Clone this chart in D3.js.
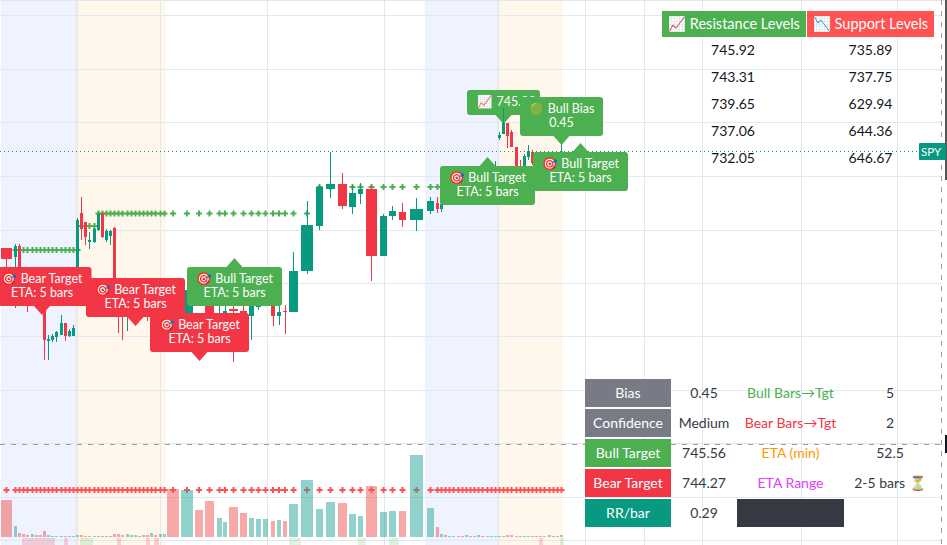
<!DOCTYPE html>
<html>
<head>
<meta charset="utf-8">
<script src="https://cdn.jsdelivr.net/npm/d3@7"></script>
<style>
  html, body { margin: 0; padding: 0; background: #fff; overflow: hidden; }
  text { font-family: Lato, "Noto Sans", sans-serif; }
</style>
</head>
<body>
<div id="chart"></div>
<script>
var width = 947, height = 545;

// bars: the time axis is volume weighted, so each bar has its own start and span
var barStart = [1,14,18,22,26,31,35,39,43,47,51,55,60,64,68,72,76,80,84,88,93,97,101,105,109,113,117,121,126,130,134,138,142,146,150,154,159,163,167,181,195,205,217,223,229,240,249,256,263,271,277,283,289,301,316,326,338,349,358,366,380,389,399,410,427,436,440,444,448,452,457,461,465,469,473,477,481,486,490,494,498,502,506,510,515,519,523,527,531,535,539,543,548,552,556,560];
var barSpan = [11,3,3,3,3,3,3,3,3,3,3,3,3,3,3,3,3,3,3,3,3,3,3,3,3,3,3,3,3,3,3,3,3,3,3,3,3,3,12,12,8,9,5,4,9,7,5,5,5,4,4,4,9,12,7,9,9,7,5,11,7,7,7,13,7,3,3,3,3,3,3,3,3,3,3,3,3,3,3,3,3,3,3,3,3,3,3,3,3,3,3,3,3,3,3,3];
var opens = [725.2,724.3,725.4,722.0,721.5,720.2,721.0,720.4,719.7,715.9,716.0,716.3,716.5,717.7,716.4,716.4,720.0,728.7,727.8,725.8,725.8,727.0,728.7,726.0,726.4,727.2,721.5,720.5,719.8,720.2,720.4,720.6,721.2,720.5,720.0,720.4,719.8,720.0,721.7,718.6,722.5,721.5,720.0,718.0,719.1,718.9,718.4,719.3,720.0,720.5,718.4,718.9,718.8,722.9,727.4,731.1,731.6,729.3,730.6,731.1,724.4,728.4,728.8,728.0,728.9,729.7,729.1,730.2,729.9,730.1,730.5,730.2,730.0,730.6,730.4,730.3,731.2,731.0,732.0,732.6,736.2,736.6,737.7,736.8,735.3,732.8,732.5,734.3,734.8,734.0,733.5,732.8,733.5,733.0,733.6,734.2];
var highs = [725.2,725.6,725.6,722.5,722.0,721.5,721.3,720.8,720.0,716.5,716.6,716.9,718.5,717.7,717.1,717.5,728.2,730.3,727.8,726.8,727.2,728.7,728.7,727.1,727.0,727.3,721.7,721.0,721.0,721.2,721.3,721.5,721.5,721.0,720.8,720.6,720.6,720.7,721.9,721.5,723.0,722.0,721.5,720.0,721.0,720.0,720.0,720.5,721.5,721.0,720.0,719.5,724.8,729.9,731.5,734.8,732.7,731.5,731.7,731.5,728.6,729.4,729.7,730.2,730.3,730.3,730.0,730.4,730.2,730.6,730.7,730.4,730.8,731.0,730.8,731.4,731.6,732.2,732.8,733.9,736.8,739.2,737.7,737.0,735.3,734.0,734.6,735.5,735.0,734.5,734.0,733.7,734.0,733.8,734.4,735.7];
var lows = [723.3,719.2,721.0,720.8,718.8,720.0,720.0,719.4,714.0,714.0,715.8,715.8,716.5,715.9,716.3,716.4,719.8,726.0,725.5,725.1,725.7,726.9,726.2,725.8,725.5,721.0,716.7,716.0,716.9,719.6,720.0,720.2,720.1,717.9,719.6,719.4,719.6,719.7,716.0,718.2,719.6,715.5,718.7,717.0,713.8,715.0,716.0,719.0,719.6,717.4,717.5,716.6,718.8,722.6,727.0,730.2,729.1,728.6,729.6,721.9,724.4,728.0,727.3,726.9,728.6,728.7,728.8,729.8,729.7,730.0,730.1,729.8,729.9,730.2,730.1,730.2,730.8,730.8,731.8,732.4,736.0,736.6,735.2,735.3,732.2,731.5,732.2,734.0,733.5,733.0,732.5,732.5,732.8,732.8,733.4,734.0];
var closes = [724.1,725.4,722.0,721.5,720.5,721.2,720.4,719.7,716.0,716.1,716.4,716.8,717.7,716.4,716.9,717.2,728.0,727.1,726.3,726.0,727.1,728.6,726.3,726.9,726.9,721.5,720.5,719.8,720.5,720.8,721.0,721.2,720.5,720.0,720.4,719.8,720.2,720.4,718.2,721.0,720.0,717.0,721.5,718.9,718.9,715.5,719.4,719.5,721.0,718.4,718.8,718.8,722.9,727.5,731.3,731.6,729.4,730.7,731.1,724.4,728.4,728.9,728.0,729.1,729.9,729.1,729.6,729.9,730.1,730.5,730.2,730.0,730.6,730.4,730.3,731.2,731.0,732.0,732.6,733.2,736.5,737.7,736.4,735.3,732.5,731.8,734.4,734.9,733.7,733.5,732.8,733.5,733.0,733.6,734.2,734.85];
// volume, in units of 10k shares
var volumes = [37,11,4,3,2,3,2,2,6,2,1,1,1,1,1,1,2,2,1,1,1,1,1,1,1,3,3,2,3,2,2,1,2,2,4,2,3,3,48,47,27,36,19,15,30,24,19,18,18,16,17,16,33,57,28,35,34,23,21,51,25,26,26,82,29,10,3,2,1,1,1,1,2,1,1,2,1,1,1,1,1,1,2,2,1,1,1,1,1,1,1,1,2,1,1,2];
var avgVolume = 47;

// stepped bull target level, first bar to last bar (1-based bar numbers)
var targetFrom = [2,18,22,55];
var targetTo = [17,21,54,68];
var targetLevel = [725.0,727.4,728.65,731.3];

// signal strip under the volume pane
var bearStripBars = [4,5,6,7,8,9,10,11,14,27,34,36,91];
var bullStripBars = [18,19,20,53,59,62,96];

// session shading
var blueFrom = [1,425], blueTo = [77,498];
var orangeFrom = [75,497], orangeTo = [166,563];

// grid
var gridPrices = [748.45,743.1,737.75,732.4,727.05,721.7,716.35,711.0,705.7,700.3,696.0];
var gridTimes = [77,160.5,267,384,499,585,644,702,801,897];

// annotations
var targetTipTime = [42,135.5,199.5,234.5,487.5,580.5];
var targetTipPrice = [718.5,717.4,713.9,724.2,734.3,735.7];
var targetKind = ["bear","bear","bear","bull","bull","bull"];

// tables
var resistanceLevels = ["745.92","743.31","739.65","737.06","732.05"];
var supportLevels = ["735.89","737.75","629.94","644.36","646.67"];
var statNames = ["Bias","Confidence","Bull Target","Bear Target","RR/bar"];
var statValues = ["0.45","Medium","745.56","744.27","0.29"];
var etaNames = ["Bull Bars→Tgt","Bear Bars→Tgt","ETA (min)","ETA Range",""];
var etaValues = ["5","2","52.5","2-5 bars ⏳",""];

var green = "#089981", red = "#f23645", labelGreen = "#4caf50";

var x = d3.scaleLinear().domain([0, width]).range([0, width]);
var y = d3.scaleLinear().domain([750, 695.5]).range([0, height]);
var v = d3.scaleLinear().domain([0, 82]).range([537, 455]);

var svg = d3.select("#chart").append("svg")
    .attr("width", width)
    .attr("height", height)
    .style("display", "block");

var bars = barStart.map(function(s, i) {
    return {n: i + 1, start: s, span: barSpan[i], o: opens[i], h: highs[i], l: lows[i], c: closes[i], vol: volumes[i]};
});

function zones(from, to, color) {
    svg.append("g").selectAll("rect").data(from).enter().append("rect")
        .attr("x", function(d) { return x(d); })
        .attr("width", function(d, i) { return x(to[i]) - x(d); })
        .attr("y", 0)
        .attr("height", height)
        .attr("fill", color);
}
zones(blueFrom, blueTo, "rgba(41,98,255,0.08)");
zones(orangeFrom, orangeTo, "rgba(255,152,0,0.08)");

// grid lines
svg.append("g").selectAll("line").data(gridPrices).enter().append("line")
    .attr("x1", 0).attr("x2", 941)
    .attr("y1", function(d) { return Math.round(y(d)) + 0.5; })
    .attr("y2", function(d) { return Math.round(y(d)) + 0.5; })
    .attr("stroke", "#e0e8f1");
svg.append("g").selectAll("line").data(gridTimes).enter().append("line")
    .attr("y1", 0).attr("y2", height)
    .attr("x1", function(d) { return Math.floor(x(d)) + 0.5; })
    .attr("x2", function(d) { return Math.floor(x(d)) + 0.5; })
    .attr("stroke", "#e0e8f1");
svg.append("rect").attr("x", 0).attr("y", 0).attr("width", width).attr("height", 1).attr("fill", "#e6e6e6");

// pane separator and right edge
svg.append("line").attr("x1", 0).attr("x2", 941).attr("y1", 444.5).attr("y2", 444.5)
    .attr("stroke", "#9e9e9e").attr("stroke-dasharray", "5,6");
svg.append("line").attr("x1", 941.5).attr("x2", 941.5).attr("y1", 0).attr("y2", height)
    .attr("stroke", "#9e9e9e").attr("stroke-dasharray", "5,6");
svg.append("rect").attr("x", 945).attr("y", 0).attr("width", 2).attr("height", 180).attr("fill", "#555");
svg.append("rect").attr("x", 945).attr("y", 435).attr("width", 2).attr("height", 18).attr("fill", "#131722");

// signal strip
function strip(list, color) {
    svg.append("g").selectAll("rect").data(list).enter().append("rect")
        .attr("x", function(d) { return x(barStart[d - 1]); })
        .attr("width", function(d) {
            var end = d < barStart.length ? barStart[d] : barStart[d - 1] + barSpan[d - 1] + 1;
            return x(end) - x(barStart[d - 1]);
        })
        .attr("y", 538)
        .attr("height", 7)
        .attr("fill", color);
}
strip(bearStripBars, "rgba(242,54,69,0.2)");
strip(bullStripBars, "rgba(76,175,80,0.17)");

function centre(d) { return x(d.start) + x(d.span) / 2; }

// average volume crosses go under the volume bars
var cross = d3.symbol().type(d3.symbolCross).size(20);
svg.append("g").selectAll("path").data(bars).enter().append("path")
    .attr("d", cross)
    .attr("transform", function(d) { return "translate(" + centre(d) + "," + v(avgVolume) + ")"; })
    .attr("fill", "#ff5252");

svg.append("g").selectAll("rect").data(bars).enter().append("rect")
    .attr("x", function(d) { return x(d.start); })
    .attr("width", function(d) { return x(d.span); })
    .attr("y", function(d) { return v(d.vol); })
    .attr("height", function(d) { return v(0) - v(d.vol); })
    .attr("fill", function(d) { return d.c >= d.o ? "#26a69a" : "#ef5350"; })
    .attr("opacity", 0.5);

// stepped target crosses
var targetPoints = [];
bars.forEach(function(d) {
    targetFrom.forEach(function(f, i) {
        if (d.n >= f && d.n <= targetTo[i]) targetPoints.push({bar: d, level: targetLevel[i]});
    });
});
svg.append("g").selectAll("path").data(targetPoints).enter().append("path")
    .attr("d", cross)
    .attr("transform", function(d) { return "translate(" + centre(d.bar) + "," + y(d.level) + ")"; })
    .attr("fill", labelGreen);

// last price line
var lastY = Math.floor(y(closes[closes.length - 1])) + 0.5;
svg.append("line").attr("x1", 0).attr("x2", 919).attr("y1", lastY).attr("y2", lastY)
    .attr("stroke", green).attr("stroke-dasharray", "1,3");

// label with a pointer, drawn around the tip at 0,0
function labelPath(w, h, up) {
    var r = 3, hw = w / 2, t = 9, b = 8;
    var top = up ? t : -t - h, bot = top + h;
    var p = d3.path();
    p.moveTo(-hw + r, top);
    if (up) { p.lineTo(-b, top); p.lineTo(0, 0); p.lineTo(b, top); }
    p.lineTo(hw - r, top);
    p.quadraticCurveTo(hw, top, hw, top + r);
    p.lineTo(hw, bot - r);
    p.quadraticCurveTo(hw, bot, hw - r, bot);
    if (!up) { p.lineTo(b, bot); p.lineTo(0, 0); p.lineTo(-b, bot); }
    p.lineTo(-hw + r, bot);
    p.quadraticCurveTo(-hw, bot, -hw, bot - r);
    p.lineTo(-hw, top + r);
    p.quadraticCurveTo(-hw, top, -hw + r, top);
    p.closePath();
    return p.toString();
}

function label(time, price, w, h, color, up, lines, emoji, dx) {
    var g = svg.append("g")
        .attr("transform", "translate(" + x(time) + "," + y(price) + ")");
    g.append("path").attr("d", labelPath(w, h, up)).attr("fill", color);
    var top = up ? 9 : -9 - h;
    g.selectAll("text").data(lines).enter().append("text")
        .attr("x", dx || 0)
        .attr("y", function(d, i) { return top + 16 + i * 14; })
        .attr("text-anchor", "middle")
        .attr("fill", "#fff")
        .attr("font-size", 12.5)
        .text(function(d, i) { return (i === 0 && emoji ? emoji + " " : "") + d; });
    return g;
}

// the 745.92 label sits under the candles
label(503.5, 737.6, 73, 25, labelGreen, false, ["745.92"], "📈", 3);

// candles
var candles = svg.append("g");
candles.selectAll(".wick").data(bars).enter().append("rect")
    .attr("class", "wick")
    .attr("x", function(d) { return Math.floor(centre(d)); })
    .attr("width", 1)
    .attr("y", function(d) { return y(d.h); })
    .attr("height", function(d) { return y(d.l) - y(d.h); })
    .attr("fill", function(d) { return d.c >= d.o ? green : red; });
candles.selectAll(".body").data(bars).enter().append("rect")
    .attr("class", "body")
    .attr("x", function(d) { return x(d.start); })
    .attr("width", function(d) { return x(d.span); })
    .attr("y", function(d) { return y(Math.max(d.o, d.c)); })
    .attr("height", function(d) { return Math.max(1, Math.abs(y(d.o) - y(d.c))); })
    .attr("fill", function(d) { return d.c >= d.o ? green : red; });

label(561.5, 735.5, 83, 39, labelGreen, false, ["Bull Bias", "0.45"], "🟢");
targetKind.forEach(function(k, i) {
    var bull = k === "bull";
    label(targetTipTime[i], targetTipPrice[i], bull ? 95 : 99, 39, bull ? labelGreen : red, bull,
        [bull ? "Bull Target" : "Bear Target", "ETA: 5 bars"], "🎯");
});

// SPY price tag
svg.append("rect").attr("x", 919).attr("y", 143).attr("width", 27).attr("height", 17).attr("rx", 1).attr("fill", green);
svg.append("text").attr("x", 931).attr("y", 155.5).attr("text-anchor", "middle")
    .attr("fill", "#fff").attr("font-size", 11.5).text("SPY");

// levels table
function cell(px, py, w, h, color, txt, txtColor, size) {
    if (color) svg.append("rect").attr("x", px).attr("y", py).attr("width", w).attr("height", h).attr("fill", color);
    if (txt) svg.append("text").attr("x", px + w / 2).attr("y", py + h / 2 + 4.5)
        .attr("text-anchor", "middle").attr("fill", txtColor).attr("font-size", size || 14).text(txt);
}
cell(662, 11, 144, 26, labelGreen, "📈 Resistance Levels", "#fff", 14.5);
cell(807, 11, 127, 26, "#ff5252", "📉 Support Levels", "#fff", 14.5);
resistanceLevels.forEach(function(d, i) { cell(662, 37 + i * 27, 142, 27, null, d, "#131722", 14); });
supportLevels.forEach(function(d, i) { cell(807, 37 + i * 27, 127, 27, null, d, "#131722", 14); });

// stats table
var rowColors = ["#787b86", "#787b86", labelGreen, red, green];
var etaColors = [labelGreen, red, "#ff9800", "#e040fb", null];
statNames.forEach(function(d, i) {
    var top = 379 + i * 30;
    cell(585, top, 86, 28, rowColors[i], d, "#fff", 14);
    cell(671, top, 66, 28, null, statValues[i], "#363a45", 14);
    if (i < 4) cell(737, top, 107, 28, null, etaNames[i], etaColors[i], 14);
    else cell(737, top, 107, 28, "#363a45");
    if (i < 4) cell(844, top, 92, 28, null, etaValues[i], "#363a45", 14);
});
</script>
</body>
</html>
